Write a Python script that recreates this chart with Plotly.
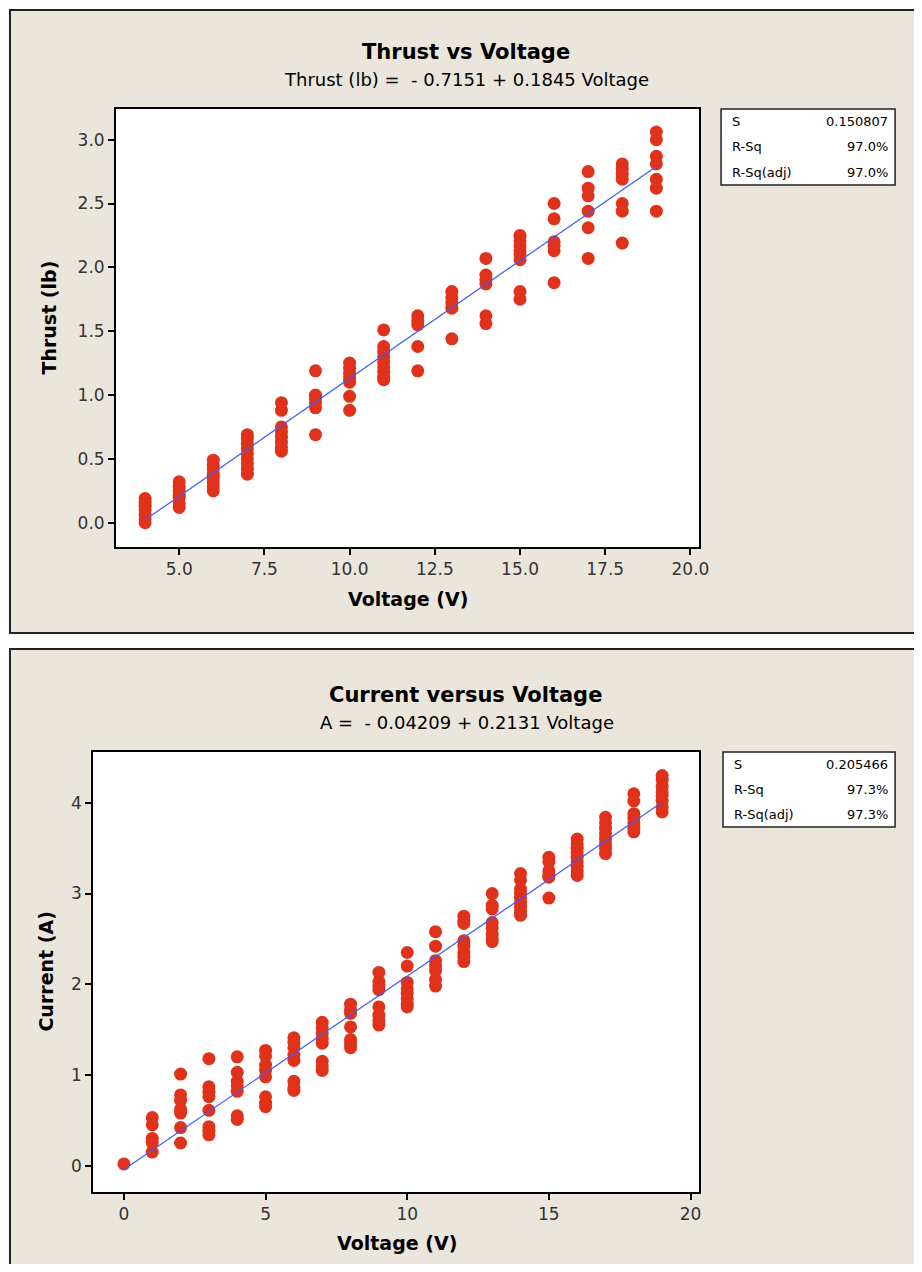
import plotly.graph_objects as go

OFF = 8  # page body margin
W, H = 922 - 2 * OFF, 1272 - 2 * OFF

# ---------------- data ----------------
thrust_volts = [4, 5, 6, 7, 8, 9, 10, 11, 12, 13, 14, 15, 16, 17, 18, 19]
thrust_vals = [
    [0.0, 0.03, 0.06, 0.1, 0.13, 0.16, 0.19],
    [0.12, 0.15, 0.2, 0.22, 0.25, 0.28, 0.32],
    [0.25, 0.28, 0.32, 0.35, 0.38, 0.42, 0.45, 0.49],
    [0.38, 0.42, 0.46, 0.5, 0.54, 0.58, 0.62, 0.66, 0.69],
    [0.94, 0.88, 0.75, 0.71, 0.67, 0.63, 0.59, 0.56],
    [1.19, 1.0, 0.97, 0.94, 0.9, 0.69],
    [1.25, 1.21, 1.17, 1.13, 1.1, 0.99, 0.88],
    [1.51, 1.38, 1.34, 1.3, 1.26, 1.22, 1.18, 1.14, 1.12],
    [1.62, 1.58, 1.55, 1.38, 1.19],
    [1.81, 1.76, 1.72, 1.68, 1.44],
    [2.07, 1.94, 1.9, 1.87, 1.62, 1.56],
    [2.25, 2.21, 2.17, 2.13, 2.1, 2.06, 1.81, 1.75],
    [2.5, 2.38, 2.2, 2.17, 2.13, 1.88],
    [2.75, 2.62, 2.56, 2.44, 2.31, 2.07],
    [2.81, 2.77, 2.73, 2.69, 2.5, 2.44, 2.19],
    [3.06, 3.0, 2.87, 2.81, 2.69, 2.62, 2.44],
]
thrust_fit = (-0.7151, 0.1845)
thrust_stats = [("S", "0.150807"), ("R-Sq", "97.0%"), ("R-Sq(adj)", "97.0%")]

current_volts = list(range(0, 20))
current_vals = [
    [0.02],
    [0.53, 0.45, 0.3, 0.25, 0.15],
    [1.01, 0.78, 0.72, 0.62, 0.58, 0.42, 0.25],
    [1.18, 0.87, 0.81, 0.76, 0.61, 0.43, 0.38, 0.34],
    [1.2, 1.03, 0.93, 0.88, 0.82, 0.55, 0.51],
    [1.27, 1.21, 1.11, 1.05, 0.98, 0.76, 0.69, 0.65],
    [1.41, 1.36, 1.3, 1.22, 1.16, 0.93, 0.86, 0.83],
    [1.58, 1.52, 1.46, 1.4, 1.35, 1.15, 1.1, 1.05],
    [1.78, 1.72, 1.68, 1.53, 1.39, 1.34, 1.3],
    [2.13, 2.03, 1.98, 1.94, 1.75, 1.66, 1.6, 1.55],
    [2.35, 2.2, 2.02, 1.95, 1.9, 1.84, 1.78, 1.75],
    [2.58, 2.42, 2.26, 2.2, 2.15, 2.05, 1.98],
    [2.75, 2.7, 2.67, 2.48, 2.42, 2.35, 2.3, 2.25],
    [3.0, 2.87, 2.83, 2.68, 2.62, 2.55, 2.5, 2.47],
    [3.22, 3.15, 3.05, 3.0, 2.95, 2.9, 2.85, 2.8, 2.76],
    [3.4, 3.35, 3.25, 3.2, 3.18, 2.95],
    [3.6, 3.55, 3.5, 3.45, 3.4, 3.35, 3.3, 3.25, 3.2],
    [3.84, 3.78, 3.72, 3.66, 3.6, 3.55, 3.5, 3.44],
    [4.1, 4.02, 3.88, 3.83, 3.78, 3.72, 3.68],
    [4.3, 4.25, 4.18, 4.12, 4.08, 4.02, 3.95, 3.9],
]
current_fit = (-0.04209, 0.2131)
current_stats = [("S", "0.205466"), ("R-Sq", "97.3%"), ("R-Sq(adj)", "97.3%")]

top_xticks = [5.0, 7.5, 10.0, 12.5, 15.0, 17.5, 20.0]
top_yticks = [0.0, 0.5, 1.0, 1.5, 2.0, 2.5, 3.0]
bot_xticks = [0, 5, 10, 15, 20]
bot_yticks = [0, 1, 2, 3, 4]

# ---------------- style ----------------
RED = "#E0321A"
BLUE = "#3A5BFF"
BEIGE = "#EBE6DB"
FONT = "DejaVu Sans"
TICKC = "#333333"


def px(x):
    return (x - OFF) / W


def py(y):
    return 1 - (y - OFF) / H


def flatten(volts, vals):
    xs, ys = [], []
    for v, col in zip(volts, vals):
        for val in col:
            xs.append(v)
            ys.append(val)
    return xs, ys


fig = go.Figure()

tx, ty = flatten(thrust_volts, thrust_vals)
fig.add_trace(go.Scatter(x=tx, y=ty, mode="markers", xaxis="x", yaxis="y",
                         marker=dict(color=RED, size=13, line=dict(width=0)),
                         showlegend=False))
fx = [min(thrust_volts), max(thrust_volts)]
fig.add_trace(go.Scatter(x=fx, y=[thrust_fit[0] + thrust_fit[1] * v for v in fx],
                         mode="lines", xaxis="x", yaxis="y",
                         line=dict(color=BLUE, width=1.2), showlegend=False))

cx, cy = flatten(current_volts, current_vals)
fig.add_trace(go.Scatter(x=cx, y=cy, mode="markers", xaxis="x2", yaxis="y2",
                         marker=dict(color=RED, size=13, line=dict(width=0)),
                         showlegend=False))
fx2 = [min(current_volts), max(current_volts)]
fig.add_trace(go.Scatter(x=fx2, y=[current_fit[0] + current_fit[1] * v for v in fx2],
                         mode="lines", xaxis="x2", yaxis="y2",
                         line=dict(color=BLUE, width=1.2), showlegend=False))

axis_common = dict(showline=True, linecolor="black", linewidth=1.5, mirror=True,
                   ticks="outside", ticklen=6, tickcolor="black", tickwidth=1.5,
                   showgrid=False, zeroline=False,
                   tickfont=dict(family=FONT, size=17, color=TICKC))

shapes = []
annotations = []


def panel(y0, y1, plot_x0, plot_x1, plot_y0, plot_y1, sx0, sx1, sy0, sy1, stats):
    shapes.append(dict(type="rect", xref="paper", yref="paper", layer="below",
                       x0=px(10), x1=px(935), y0=py(y1), y1=py(y0),
                       fillcolor=BEIGE, line=dict(color="#222222", width=2)))
    shapes.append(dict(type="rect", xref="paper", yref="paper", layer="below",
                       x0=px(plot_x0), x1=px(plot_x1), y0=py(plot_y1), y1=py(plot_y0),
                       fillcolor="white", line=dict(width=0)))
    shapes.append(dict(type="rect", xref="paper", yref="paper", layer="above",
                       x0=px(sx0), x1=px(sx1), y0=py(sy1), y1=py(sy0),
                       fillcolor="white", line=dict(color="#222222", width=1.5)))
    step = (sy1 - sy0) / 3
    for i, (lab, val) in enumerate(stats):
        yc = sy0 + step * (i + 0.5)
        annotations.append(dict(x=px(sx0 + 9), y=py(yc), xref="paper", yref="paper",
                                text=lab, showarrow=False, xanchor="left", yanchor="middle",
                                font=dict(family=FONT, size=13, color="black")))
        annotations.append(dict(x=px(sx1 - 5), y=py(yc), xref="paper", yref="paper",
                                text=val, showarrow=False, xanchor="right", yanchor="middle",
                                font=dict(family=FONT, size=13, color="black")))


panel(10, 633, 117, 707, 109, 547, 729, 905, 109, 185, thrust_stats)
panel(649, 1300, 94, 707, 752, 1192, 731, 905, 752, 827, current_stats)


def text(x, y, s, size, bold=False, angle=0):
    annotations.append(dict(x=px(x), y=py(y), xref="paper", yref="paper",
                            text=f"<b>{s}</b>" if bold else s, showarrow=False,
                            xanchor="center", yanchor="middle", textangle=angle,
                            font=dict(family=FONT, size=size, color="black")))


text(471, 52, "Thrust vs Voltage", 21, bold=True)
text(472, 80, "Thrust (lb) =  - 0.7151 + 0.1845 Voltage", 18)
text(412, 599, "Voltage (V)", 19, bold=True)
text(49, 318, "Thrust (lb)", 19, bold=True, angle=-90)

text(471, 695, "Current versus Voltage", 21, bold=True)
text(472, 722, "A =  - 0.04209 + 0.2131 Voltage", 18)
text(401, 1243, "Voltage (V)", 19, bold=True)
text(46, 972, "Current (A)", 19, bold=True, angle=-90)

fig.update_layout(
    width=W, height=H,
    margin=dict(l=0, r=0, t=0, b=0),
    paper_bgcolor="white", plot_bgcolor="white",
    showlegend=False,
    xaxis=dict(domain=[px(117), px(707)], range=[3.14, 20.26], anchor="y",
               tickvals=top_xticks, ticktext=[f"{v:.1f}" for v in top_xticks], **axis_common),
    yaxis=dict(domain=[py(547), py(109)], range=[-0.19, 3.24], anchor="x",
               tickvals=top_yticks, ticktext=[f"{v:.1f}" for v in top_yticks], **axis_common),
    xaxis2=dict(domain=[px(94), px(707)], range=[-1.09, 20.31], anchor="y2",
                tickvals=bot_xticks, **axis_common),
    yaxis2=dict(domain=[py(1192), py(752)], range=[-0.29, 4.56], anchor="x2",
                tickvals=bot_yticks, **axis_common),
    shapes=shapes,
    annotations=annotations,
)

fig.write_html("out.html")
